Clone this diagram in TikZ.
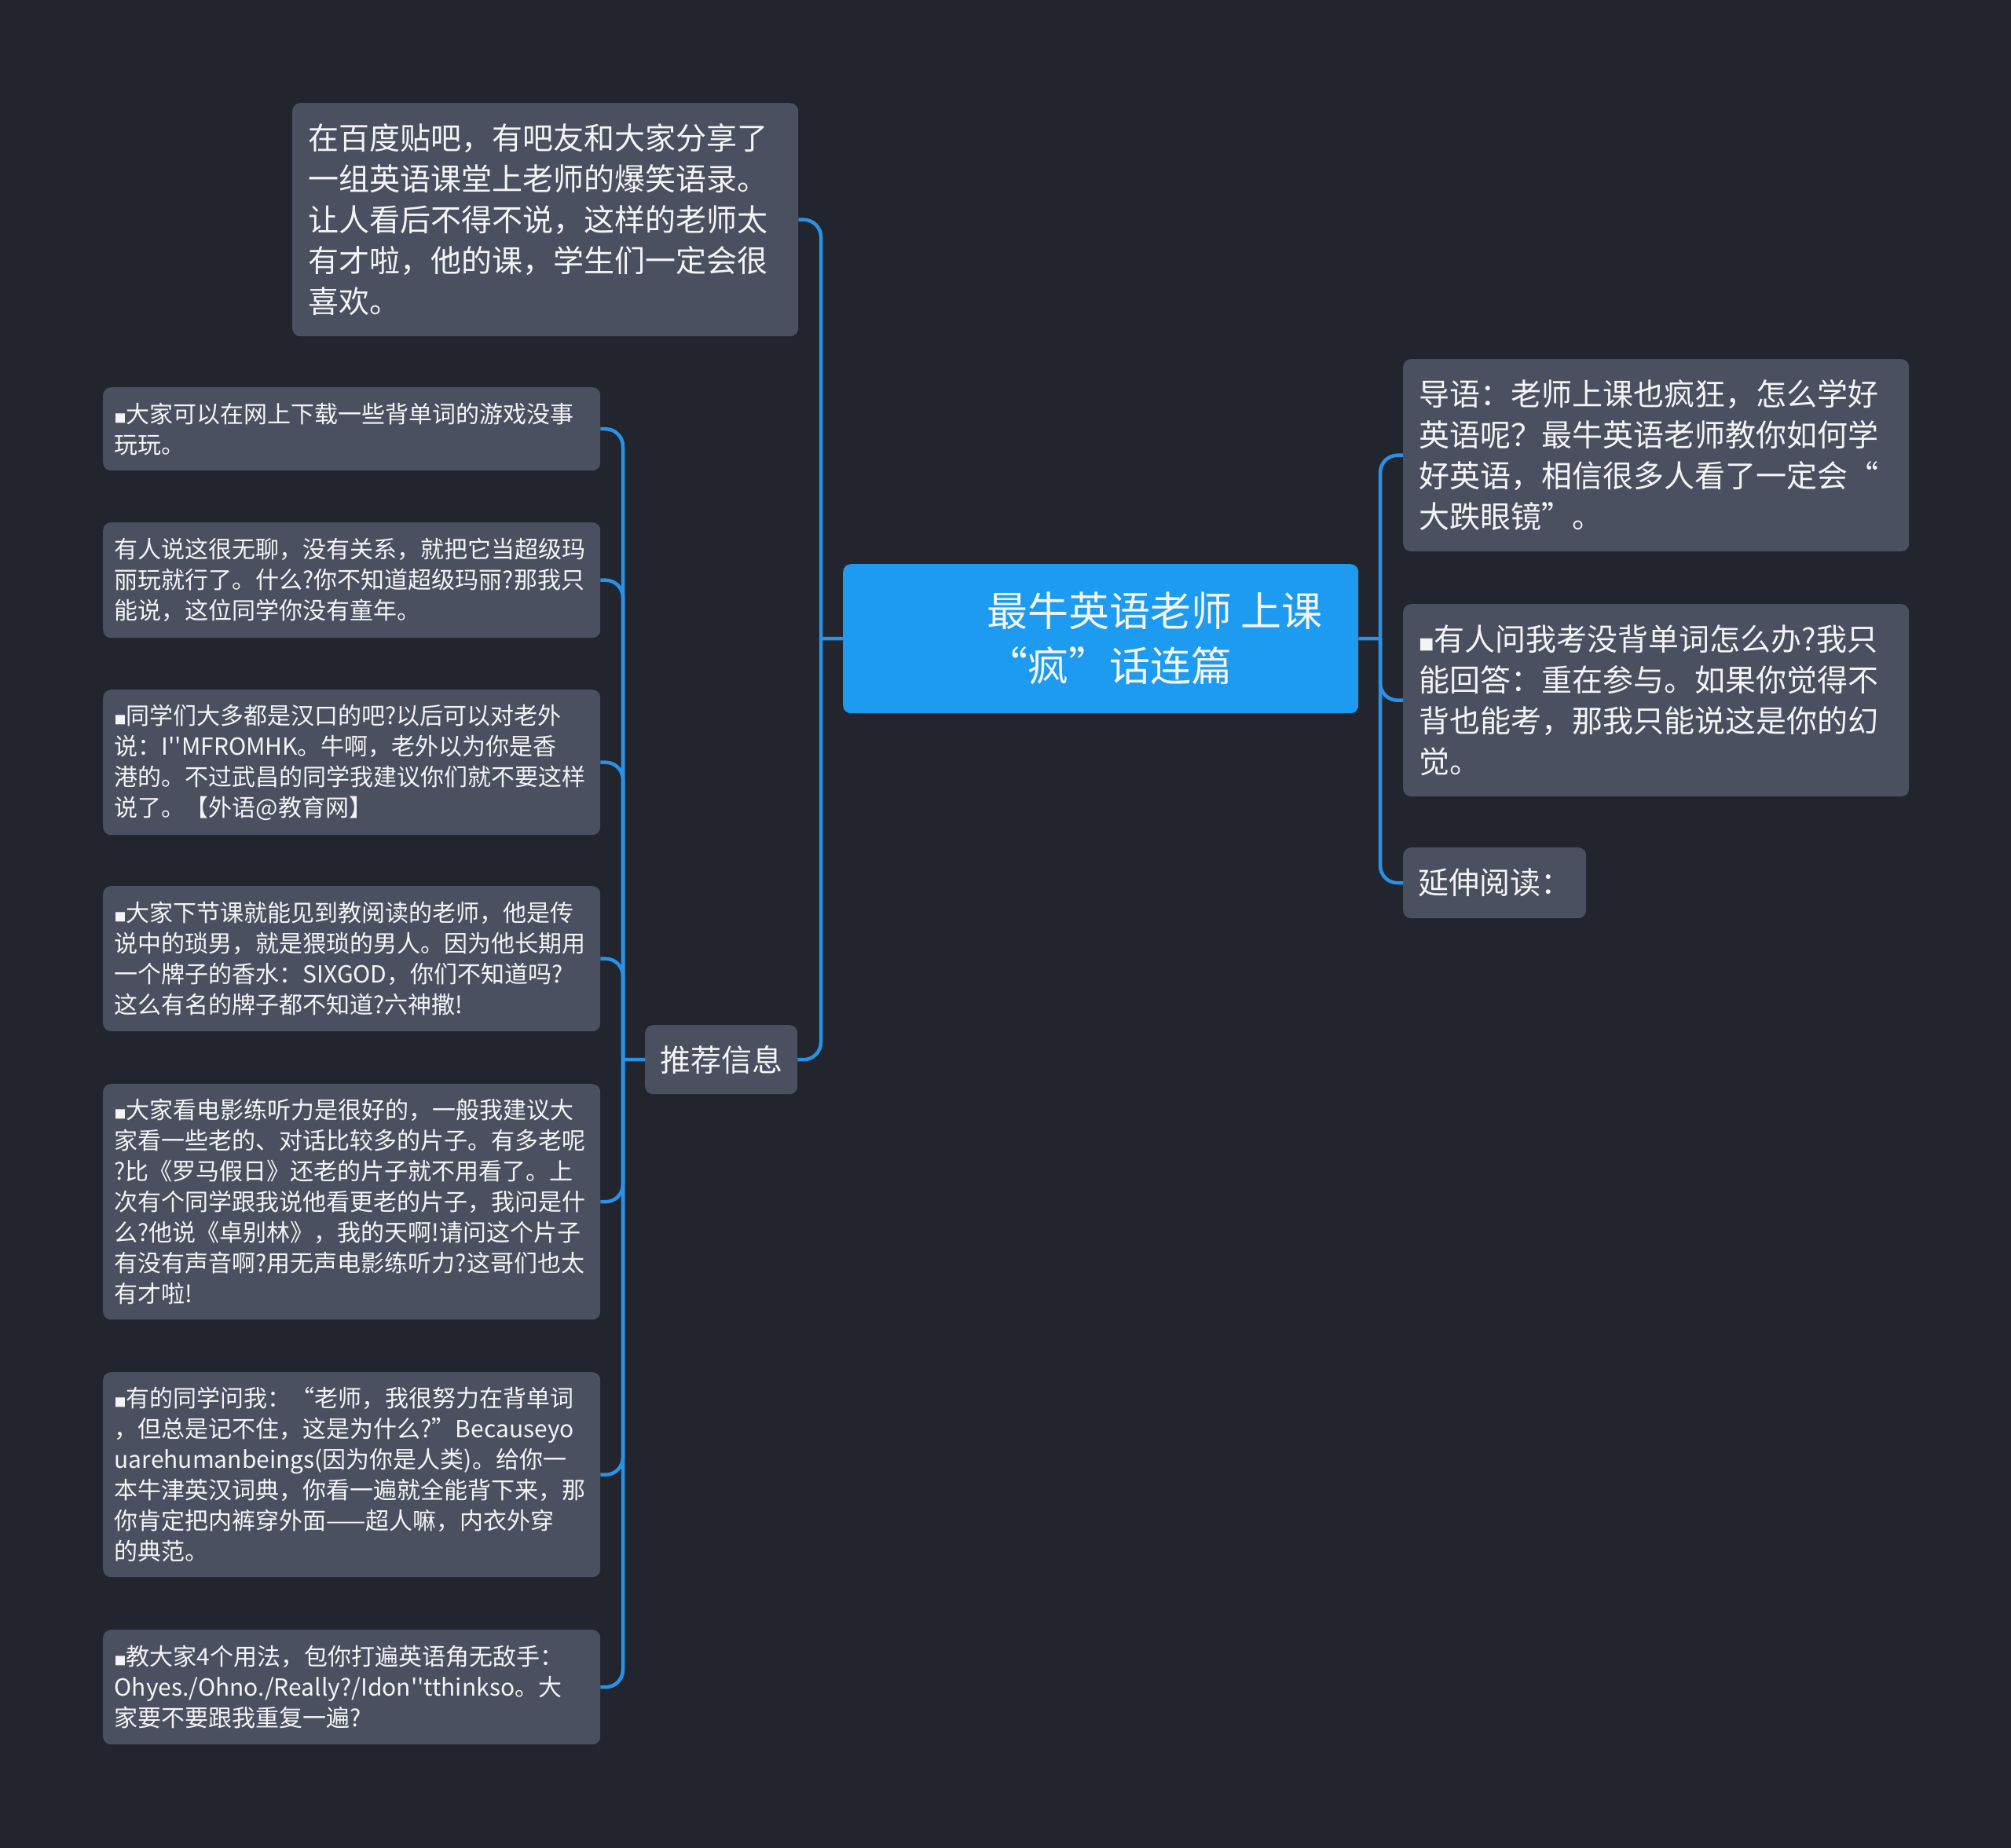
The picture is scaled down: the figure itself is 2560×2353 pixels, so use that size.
\documentclass[tikz,border=0pt]{standalone}
\usepackage{fontspec}
\setmainfont{Noto Sans CJK SC}[Ligatures=TeXOff]

\definecolor{bgdark}{HTML}{22252E}
\definecolor{boxgray}{HTML}{4A5060}
\definecolor{rootblue}{HTML}{1C9BF0}
\definecolor{linkblue}{HTML}{2A92E6}
\definecolor{textwhite}{HTML}{F4F4F4}

\newcommand{\sqmark}{\scalebox{0.5}{■}}

\tikzset{
  box/.style={fill=boxgray, text=textwhite, rounded corners=10pt, anchor=north west, align=left, inner ysep=0pt},
  leaf/.style={box, font=\fontsize{30}{39}\selectfont, text width=604pt, inner xsep=14.5pt},
  note/.style={box, font=\fontsize{39}{52}\selectfont, text width=604pt, inner xsep=20pt},
  tag/.style={box, font=\fontsize{39}{52}\selectfont, inner xsep=19pt},
  rootbox/.style={fill=rootblue, rounded corners=10pt, anchor=north west, minimum width=656pt, minimum height=190pt},
  roottext/.style={text=textwhite, anchor=west, align=left, inner sep=0pt, font=\fontsize{52}{70}\selectfont},
  link/.style={draw=linkblue, line width=4.5pt, rounded corners=22pt},
}

\begin{document}
\begin{tikzpicture}[x=1pt, y=-1pt]
			\fill[bgdark] (0,0) rectangle (2560,2353);
			\useasboundingbox (0,0) rectangle (2560,2353);

			% centre
			\node[rootbox] (root) at (1073,718) {};
			\node[roottext] (roottitle) at (1256,813) {最牛英语老师 上课\\“疯”话连篇};

			% left side
			\node[note, minimum height=297pt] (intro) at (372,131) {在百度贴吧，有吧友和大家分享了\\一组英语课堂上老师的爆笑语录。\\让人看后不得不说，这样的老师太\\有才啦，他的课，学生们一定会很\\喜欢。};
			\node[tag, minimum height=88pt] (rec) at (821,1305) {推荐信息};

			\node[leaf, minimum height=106pt] (game) at (131,493) {\sqmark 大家可以在网上下载一些背单词的游戏没事\\玩玩。};
			\node[leaf, minimum height=147pt] (mario) at (131,665) {有人说这很无聊，没有关系，就把它当超级玛\\丽玩就行了。什么?你不知道超级玛丽?那我只\\能说，这位同学你没有童年。};
			\node[leaf, minimum height=185pt] (hankou) at (131,878) {\sqmark 同学们大多都是汉口的吧?以后可以对老外\\说：I''MFROMHK。牛啊，老外以为你是香\\港的。不过武昌的同学我建议你们就不要这样\\说了。【外语@教育网】};
			\node[leaf, minimum height=185pt] (sixgod) at (131,1128) {\sqmark 大家下节课就能见到教阅读的老师，他是传\\说中的琐男，就是猥琐的男人。因为他长期用\\一个牌子的香水：SIXGOD，你们不知道吗?\\这么有名的牌子都不知道?六神撒!};
			\node[leaf, minimum height=300pt] (movie) at (131,1380) {\sqmark 大家看电影练听力是很好的，一般我建议大\\家看一些老的、对话比较多的片子。有多老呢\\?比《罗马假日》还老的片子就不用看了。上\\次有个同学跟我说他看更老的片子，我问是什\\么?他说《卓别林》，我的天啊!请问这个片子\\有没有声音啊?用无声电影练听力?这哥们也太\\有才啦!};
			\node[leaf, minimum height=261pt] (human) at (131,1747) {\sqmark 有的同学问我：“老师，我很努力在背单词\\，但总是记不住，这是为什么?”Becauseyo\\uarehumanbeings(因为你是人类)。给你一\\本牛津英汉词典，你看一遍就全能背下来，那\\你肯定把内裤穿外面——超人嘛，内衣外穿\\的典范。};
			\node[leaf, minimum height=146pt] (phrase) at (131,2075) {\sqmark 教大家4个用法，包你打遍英语角无敌手：\\Ohyes./Ohno./Really?/Idon''tthinkso。大\\家要不要跟我重复一遍?};

			% right side
			\node[note, minimum height=245pt] (lead) at (1786,457) {导语：老师上课也疯狂，怎么学好\\英语呢？最牛英语老师教你如何学\\好英语，相信很多人看了一定会“\\大跌眼镜”。};
			\node[note, minimum height=245pt] (ask) at (1786,769) {\sqmark 有人问我考没背单词怎么办?我只\\能回答：重在参与。如果你觉得不\\背也能考，那我只能说这是你的幻\\觉。};
			\node[tag, minimum height=90pt] (more) at (1786,1079) {延伸阅读：};

			% connectors
			\coordinate (ltrunk) at (1045,813);
			\coordinate (rtrunk) at (1757,813);
			\coordinate (rectrunk) at (793,1349);
			\draw[link] (root.west) -- (ltrunk);
			\draw[link] (intro.east) -| (ltrunk) |- (rec.east);
			\draw[link] (rec.west) -- (rectrunk);
			\draw[link] (game.east) -| (rectrunk);
			\draw[link] (mario.east) -| (rectrunk);
			\draw[link] (hankou.east) -| (rectrunk);
			\draw[link] (sixgod.east) -| (rectrunk);
			\draw[link] (movie.east) -| (rectrunk);
			\draw[link] (human.east) -| (rectrunk);
			\draw[link] (phrase.east) -| (rectrunk);
			\draw[link] (root.east) -- (rtrunk);
			\draw[link] (rtrunk) |- (lead.west);
			\draw[link] (rtrunk) |- (ask.west);
			\draw[link] (rtrunk) |- (more.west);
		\end{tikzpicture}
\end{document}
